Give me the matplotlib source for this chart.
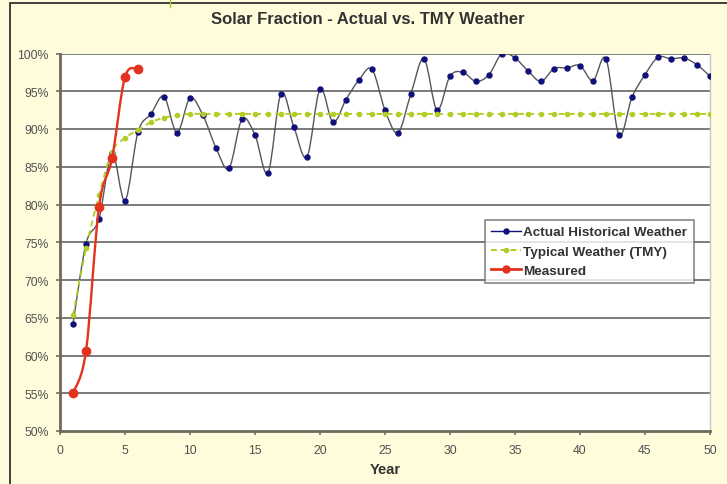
import numpy as np
import matplotlib.pyplot as plt
from matplotlib.path import Path
from matplotlib.patches import PathPatch
from matplotlib.lines import Line2D

plt.rcParams['font.family'] = ['Liberation Sans', 'DejaVu Sans']

# Solar fraction (%) by year
years = list(range(1, 51))
actual = [64.2, 74.8, 78.1, 86.8, 80.5, 89.6, 92.0, 94.3, 89.5, 94.1,
          91.8, 87.5, 84.8, 91.3, 89.2, 84.2, 94.7, 90.2, 86.3, 95.3,
          90.9, 93.9, 96.5, 97.9, 92.5, 89.5, 94.7, 99.3, 92.5, 97.0,
          97.5, 96.3, 97.2, 100.0, 99.4, 97.7, 96.3, 98.0, 98.1, 98.4,
          96.4, 99.3, 89.2, 94.2, 97.2, 99.5, 99.3, 99.4, 98.5, 97.0]
tmy = [65.3, 74.2, 81.2, 87.0, 88.8, 89.9, 90.9, 91.5, 91.8] + [92.0] * 41
measured_years = [1, 2, 3, 4, 5, 6]
measured = [55.0, 60.6, 79.7, 86.1, 96.9, 97.9]

bg = '#FFFCDC'
c_actual_line = '#55555C'
c_actual_mk = '#10107A'
c_tmy = '#B4CC24'
c_meas = '#E3321E'


def smooth_path(xs, ys):
    # Excel-style smoothed line: Catmull-Rom segments as cubic Beziers
    pts = np.column_stack([xs, ys]).astype(float)
    n = len(pts)
    verts = [pts[0]]
    codes = [Path.MOVETO]
    for i in range(n - 1):
        p0 = pts[i - 1] if i > 0 else pts[i]
        p1 = pts[i]
        p2 = pts[i + 1]
        p3 = pts[i + 2] if i + 2 < n else pts[i + 1]
        c1 = p1 + (p2 - p0) / 6.0
        c2 = p2 - (p3 - p1) / 6.0
        verts += [c1, c2, p2]
        codes += [Path.CURVE4] * 3
    return Path(verts, codes)


fig = plt.figure(figsize=(7.27, 4.85), dpi=100, facecolor=bg)
ax = fig.add_axes([60 / 727, 1 - 432 / 485, 650 / 727, 377.5 / 485])
ax.set_facecolor('white')

# horizontal gridlines
for v in range(55, 101, 5):
    ax.axhline(v, color='#7A7A7A', lw=1.4, zorder=1)

ax.add_patch(PathPatch(smooth_path(years, actual), fill=False,
                       edgecolor=c_actual_line, lw=1.0, zorder=3))
ax.plot(years, actual, ls='none', marker='o', ms=3.6, color=c_actual_mk, zorder=4)

ax.add_patch(PathPatch(smooth_path(years, tmy), fill=False,
                       edgecolor=c_tmy, lw=1.4, ls=(0, (3, 2.2)), zorder=3))
ax.plot(years, tmy, ls='none', marker='o', ms=3.0, color=c_tmy, zorder=4)

ax.add_patch(PathPatch(smooth_path(measured_years, measured), fill=False,
                       edgecolor=c_meas, lw=1.7, zorder=5))
ax.plot(measured_years, measured, ls='none', marker='o', ms=6, color=c_meas, zorder=6)

ax.set_xlim(0, 50)
ax.set_ylim(50, 100)
ax.set_xticks(range(0, 51, 5))
ax.set_yticks(range(50, 101, 5))
ax.set_yticklabels([f'{v}%' for v in range(50, 101, 5)])
ax.tick_params(axis='both', direction='out', length=3, width=1.2,
               color='#6E6E6E', labelsize=8.8, labelcolor='#505050')
ax.tick_params(axis='y', pad=5)
ax.tick_params(axis='x', pad=6)

for side in ['left', 'bottom']:
    ax.spines[side].set_color('#6E6A5A')
    ax.spines[side].set_linewidth(2.0)
ax.spines['top'].set_visible(False)
ax.spines['right'].set_color('#C8C8C8')
ax.spines['right'].set_linewidth(1.0)

ax.set_xlabel('Year', fontsize=10.5, fontweight='bold', color='#333333', labelpad=5)
fig.text(368 / 727, 1 - 20 / 485, 'Solar Fraction - Actual vs. TMY Weather',
         ha='center', va='center', fontsize=12, fontweight='bold', color='#333333')

handles = [
    Line2D([], [], color=c_actual_mk, lw=1, marker='o', ms=3.6),
    Line2D([], [], color=c_tmy, lw=1.4, ls=(0, (3, 2)), marker='o', ms=3),
    Line2D([], [], color=c_meas, lw=2, marker='o', ms=5),
]
labels = ['Actual Historical Weather', 'Typical Weather (TMY)', 'Measured']
leg = ax.legend(handles, labels, loc='upper left', bbox_to_anchor=(0.654, 0.559),
                prop={'weight': 'bold', 'size': 9.7}, frameon=True, fancybox=False,
                edgecolor='#6A6A6A', handlelength=2.2, handletextpad=0.2,
                labelspacing=0.5, borderpad=0.45, borderaxespad=0)
leg.get_frame().set_linewidth(1.2)
for t in leg.get_texts():
    t.set_color('#333333')

# outer chart border
fig.add_artist(plt.Rectangle((10 / 727, -0.02), 1.1, 1 - 4 / 485 + 0.02,
                             transform=fig.transFigure, fill=False,
                             edgecolor='#202020', lw=1.2))
fig.add_artist(Line2D([170 / 727, 170 / 727], [1, 1 - 8 / 485],
                      transform=fig.transFigure, color='#9ACD32', lw=1))

fig.savefig('out.png', dpi=100, facecolor=bg)
